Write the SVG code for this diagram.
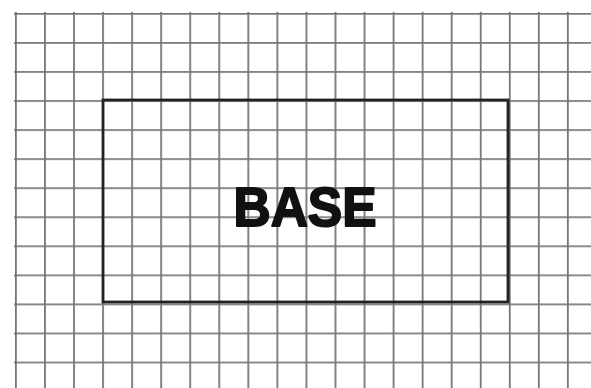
<svg xmlns="http://www.w3.org/2000/svg" width="591" height="388" viewBox="0 0 591 388">
<defs>
<pattern id="grid" x="15" y="13" width="29.05" height="29.05" patternUnits="userSpaceOnUse">
<path d="M0.9 0 V29.05 M0 0.9 H29.05" stroke="#5e5e5e" stroke-width="1.8" fill="none" opacity="0.85"/>
</pattern>
</defs>
<style>
.box{fill:none;stroke:#222;stroke-width:2.8}
.lbl{font-family:"Liberation Sans",Arial,sans-serif;font-weight:bold;font-size:56px;fill:#111;stroke:#111;stroke-width:2;stroke-linejoin:round}
</style>
<rect width="591" height="388" fill="#fff"/>
<rect x="14" y="12" width="580" height="380" fill="url(#grid)"/>
<g id="base">
<rect class="box" x="103" y="100" width="405" height="202"/>
<text class="lbl" x="305" y="226" text-anchor="middle" textLength="143" lengthAdjust="spacingAndGlyphs">BASE</text>
</g>
<g id="connectors"/>
</svg>
